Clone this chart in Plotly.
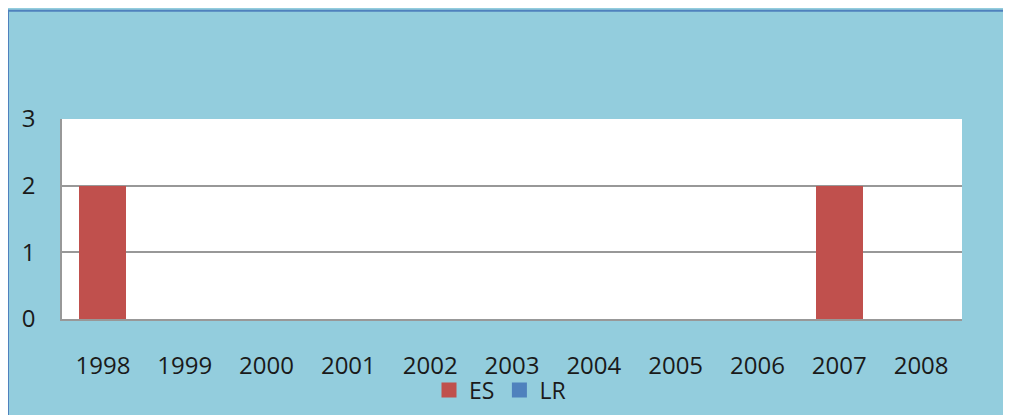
import plotly.graph_objects as go

years = ['1998', '1999', '2000', '2001', '2002', '2003', '2004', '2005', '2006', '2007', '2008']
es = [2, 0, 0, 0, 0, 0, 0, 0, 0, 2, 0]
lr = [0, 0, 0, 0, 0, 0, 0, 0, 0, 0, 0]
y_ticks = [0, 1, 2, 3]

bg_blue = '#93CDDD'
edge_blue = '#4F81BD'
es_red = '#C0504D'
grid_grey = '#989898'

# the page body adds an 8px offset, margins below are in figure pixels
W, H = 1011, 415
ml, mt = 54, 111
pw, ph = 900, 203
mr = W - ml - pw
mb = H - mt - ph


def px_x(p):
    return (p - ml) / pw


def px_y(p):
    return (H - mb - p) / ph


fig = go.Figure()
fig.add_trace(go.Bar(x=years, y=es, name='ES', legendgroup='ES', showlegend=False,
                     marker=dict(color=es_red, line=dict(width=0))))
fig.add_trace(go.Bar(x=years, y=lr, name='LR', legendgroup='LR', showlegend=False,
                     marker=dict(color=edge_blue, line=dict(width=0))))
# legend entries with bigger square keys
fig.add_trace(go.Scatter(x=[None], y=[None], name='ES', legendgroup='ES', mode='markers',
                         marker=dict(symbol='square', size=15, color=es_red)))
fig.add_trace(go.Scatter(x=[None], y=[None], name='LR', legendgroup='LR', mode='markers',
                         marker=dict(symbol='square', size=15, color=edge_blue)))

# blue frame edges on the top and left of the chart
fig.add_shape(type='line', xref='paper', yref='paper', x0=px_x(0), x1=px_x(W), y0=px_y(1), y1=px_y(1),
              line=dict(color=edge_blue, width=2))
fig.add_shape(type='line', xref='paper', yref='paper', x0=px_x(0), x1=px_x(0), y0=px_y(H), y1=px_y(0),
              line=dict(color=edge_blue, width=2))

fig.update_layout(
    width=W, height=H,
    margin=dict(l=ml, r=mr, t=mt, b=mb),
    paper_bgcolor=bg_blue,
    plot_bgcolor='white',
    barmode='stack',
    bargap=0.425,
    font=dict(family='Open Sans', size=24, color='#1a1a1a'),
    showlegend=True,
    legend=dict(orientation='h', traceorder='normal', x=px_x(492), xanchor='center',
                y=px_y(386), yanchor='middle', bgcolor='rgba(0,0,0,0)', font=dict(size=23),
                itemwidth=30),
)
fig.update_xaxes(showgrid=False, showline=True, linecolor=grid_grey, linewidth=1.5,
                 ticks='', ticklabelstandoff=24, fixedrange=True)
fig.update_yaxes(range=[0, 3], tickvals=y_ticks, showgrid=True, gridcolor=grid_grey, gridwidth=1.5,
                 showline=True, linecolor=grid_grey, linewidth=1.5, zeroline=False,
                 ticks='', ticklabelstandoff=20, fixedrange=True)

fig.write_html('out.html')
